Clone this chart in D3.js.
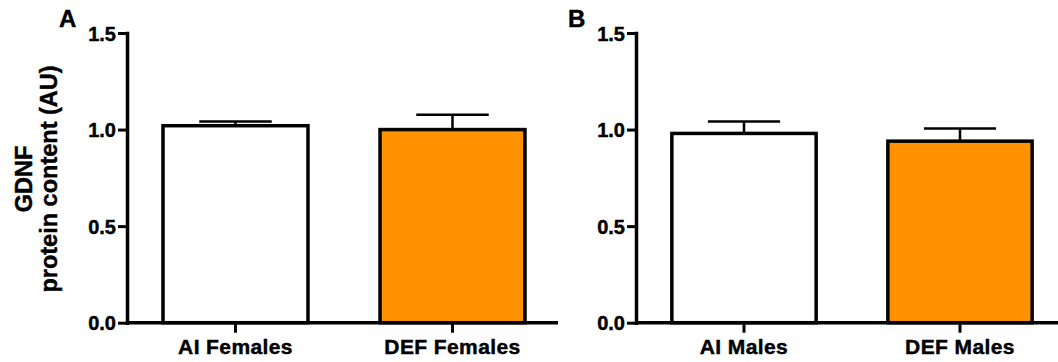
<!DOCTYPE html>
<html>
<head>
<meta charset="utf-8">
<script src="https://cdn.jsdelivr.net/npm/d3@7"></script>
<style>
  html, body { margin: 0; padding: 0; background: #fff; }
  svg { display: block; font-family: Arial, "Liberation Sans", Helvetica, sans-serif; font-weight: bold; }
  text { stroke: #000; stroke-width: 0.45px; }
</style>
</head>
<body>
<svg id="chart" width="1058" height="362"></svg>
<script>
// ---- data ----
const panelLetters = ["A", "B"];
const categoriesA = ["AI Females", "DEF Females"];
const meansA = [1.02, 1.00];
const semA = [0.022, 0.077];
const categoriesB = ["AI Males", "DEF Males"];
const meansB = [0.98, 0.94];
const semB = [0.062, 0.066];
const barColors = ["#ffffff", "#ff9200"];
const yTicks = [0, 0.5, 1.0, 1.5];
const yLabelLines = ["GDNF", "protein content (AU)"];

const svg = d3.select("#chart");

const panels = [
  { letter: panelLetters[0], cats: categoriesA, means: meansA, sem: semA, x0: 127, x1: 561, axisEnd: 558 },
  { letter: panelLetters[1], cats: categoriesB, means: meansB, sem: semB, x0: 636, x1: 1068, axisEnd: 1070 }
];

const yTop = 33, yBottom = 322.7;
const y = d3.scaleLinear().domain([0, 1.5]).range([yBottom, yTop]);

panels.forEach((p, pi) => {
  const g = svg.append("g");
  const x = d3.scaleBand().domain(p.cats).range([p.x0, p.x1])
    .paddingInner(0.332).paddingOuter(0.166);

  // bars
  g.selectAll("rect.bar").data(p.cats).join("rect")
    .attr("class", "bar")
    .attr("x", d => x(d))
    .attr("y", (d, i) => y(p.means[i]))
    .attr("width", x.bandwidth())
    .attr("height", (d, i) => y(0) - y(p.means[i]))
    .attr("fill", (d, i) => barColors[i])
    .attr("stroke", "#000")
    .attr("stroke-width", 3.5);

  // error bars (upper only)
  const capW = x.bandwidth() / 2;
  g.selectAll("line.err").data(p.cats).join("line")
    .attr("x1", d => x(d) + x.bandwidth() / 2)
    .attr("x2", d => x(d) + x.bandwidth() / 2)
    .attr("y1", (d, i) => y(p.means[i]))
    .attr("y2", (d, i) => y(p.means[i] + p.sem[i]))
    .attr("stroke", "#000").attr("stroke-width", 2.5);
  g.selectAll("line.cap").data(p.cats).join("line")
    .attr("x1", d => x(d) + x.bandwidth() / 2 - capW / 2)
    .attr("x2", d => x(d) + x.bandwidth() / 2 + capW / 2)
    .attr("y1", (d, i) => y(p.means[i] + p.sem[i]))
    .attr("y2", (d, i) => y(p.means[i] + p.sem[i]))
    .attr("stroke", "#000").attr("stroke-width", 2.5);

  // x axis
  const xAxis = g.append("g").attr("transform", `translate(0,${yBottom})`)
    .call(d3.axisBottom(x).tickSize(10).tickSizeOuter(0).tickPadding(8));
  xAxis.select(".domain").attr("d", `M${p.x0},0H${p.axisEnd}`)
    .attr("stroke", "#000").attr("stroke-width", 3.5);
  xAxis.selectAll(".tick line").attr("stroke", "#000").attr("stroke-width", 3);
  xAxis.selectAll(".tick text")
    .attr("font-size", 21).attr("font-weight", "bold").attr("fill", "#000")
    .attr("font-family", "Arial, 'Liberation Sans', sans-serif")
    .attr("dy", null).attr("y", 31).style("letter-spacing", "0.4px");

  // y axis
  const yAxis = g.append("g").attr("transform", `translate(${p.x0},0)`)
    .call(d3.axisLeft(y).tickValues(yTicks).tickFormat(d3.format(".1f"))
      .tickSize(9).tickSizeOuter(0).tickPadding(2));
  yAxis.select(".domain").attr("stroke", "#000").attr("stroke-width", 3.5)
    .attr("stroke-linecap", "square");
  yAxis.selectAll(".tick line").attr("stroke", "#000").attr("stroke-width", 3);
  yAxis.selectAll(".tick text")
    .attr("font-size", 20).attr("font-weight", "bold").attr("fill", "#000")
    .attr("font-family", "Arial, 'Liberation Sans', sans-serif")
    .attr("dy", "0.36em");

  // panel letter
  svg.append("text")
    .attr("x", p.x0 - 68).attr("y", 27)
    .attr("font-size", 24).attr("font-weight", "bold")
    .text(p.letter);
});

// y label (panel A only)
const yl = svg.append("text")
  .attr("transform", "translate(0,179) rotate(-90)")
  .attr("text-anchor", "middle")
  .attr("font-size", 23.5).attr("font-weight", "bold");
yl.selectAll("tspan").data(yLabelLines).join("tspan")
  .attr("x", 0)
  .attr("y", (d, i) => 32 + i * 25)
  .text(d => d);
</script>
</body>
</html>
